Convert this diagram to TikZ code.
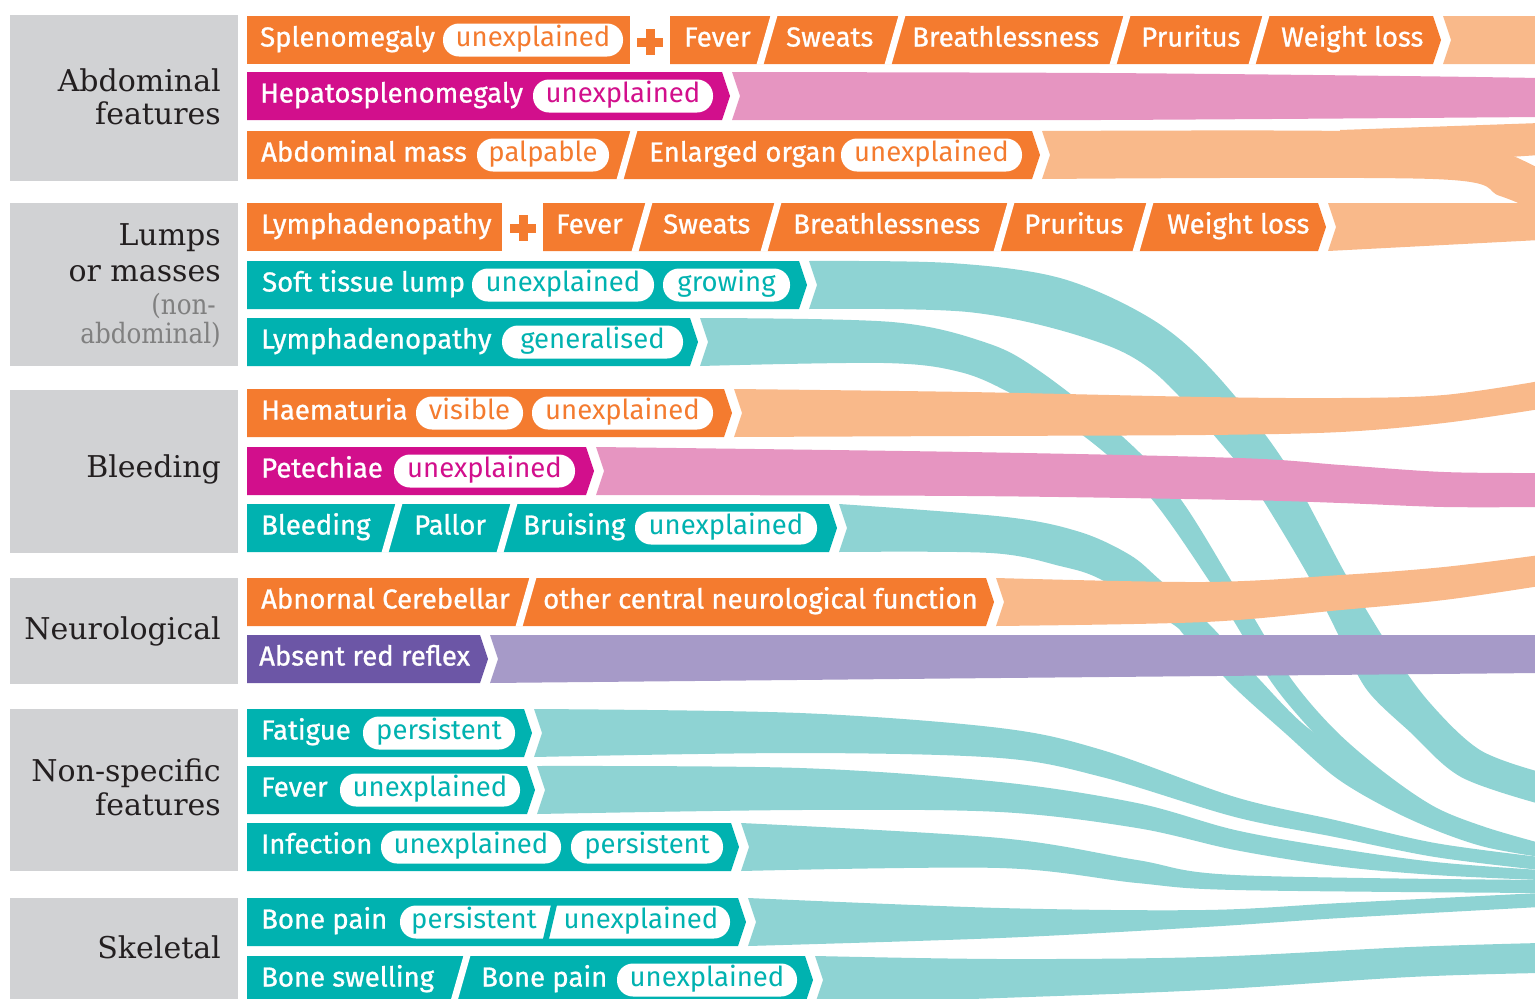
\documentclass[tikz,border=0pt]{standalone}
\usepackage{fontspec}
\setmainfont{Fira Sans}
\newfontfamily\labfont{Fira Sans}[FakeBold=1]
\newfontfamily\pillfont{Fira Sans}
\newfontfamily\serifcat{DejaVu Serif}
\newfontfamily\serifsub{DejaVu Serif}[FakeStretch=0.88]
\definecolor{cOr}{HTML}{F47B2F}
\definecolor{cMa}{HTML}{D20F8C}
\definecolor{cTe}{HTML}{00B2B0}
\definecolor{cPu}{HTML}{6C56A6}
\definecolor{lOr}{HTML}{F9B98A}
\definecolor{lMa}{HTML}{E695C1}
\definecolor{lTe}{HTML}{8ED3D3}
\definecolor{lPu}{HTML}{A69AC8}
\definecolor{cGray}{HTML}{D1D2D4}
\definecolor{cInk}{HTML}{231F20}
\definecolor{cSub}{HTML}{808080}
\tikzset{
  lab/.style={font=\labfont\fontsize{27.5}{27.5}\selectfont, text=white, inner sep=0pt, anchor=base west},
  pilltxt/.style={font=\pillfont\fontsize{27.5}{27.5}\selectfont, inner sep=0pt, anchor=base},
  cat/.style={font=\serifcat\fontsize{30}{30}\selectfont, text=cInk, inner sep=0pt, anchor=base east},
  catsub/.style={font=\serifsub\fontsize{28}{28}\selectfont, text=cSub, inner sep=0pt, anchor=base east},
  catbox/.style={fill=cGray},
  flow/.style={smooth, tension=0.55}
}
\newcommand\chevbar[5]{\fill[#1] (#2,#4) -- (#3,#4) -- ({#3+8},{(#4+#5)/2}) -- (#3,#5) -- (#2,#5) -- cycle;}
\newcommand\flatbar[5]{\fill[#1] (#2,#4) rectangle (#3,#5);}
\newcommand\cutsep[3]{\fill[white] ({#1-7-3.5},{#3+0.5}) -- ({#1-7+3.5},{#3+0.5}) -- ({#1+7+3.5},{#2-0.5}) -- ({#1+7-3.5},{#2-0.5}) -- cycle;}
\newcommand\mypill[6]{\fill[white, rounded corners=16pt] (#3,{#5-16.5}) rectangle (#4,{#5+16.5});
  \node[pilltxt, text=#2] (#1) at ({(#3+#4)/2},{#5+6.5}) {#6};}
\newcommand\lbl[4]{\node[lab] (#1) at (#2,{#3+6.5}) {#4};}
\newcommand\plussign[3]{\fill[#1] ({#2-13},{#3-4.5}) rectangle ({#2+13},{#3+4.5}); \fill[#1] ({#2-4.5},{#3-13}) rectangle ({#2+4.5},{#3+13});}
\begin{document}
\begin{tikzpicture}[x=1pt,y=-1pt]
\useasboundingbox (0,0) rectangle (1535,999);
\clip (0,0) rectangle (1535,999);
% ---------------- teal flows (behind) ----------------
\fill[lTe] plot[flow] coordinates {(809,261) (950,263) (1060,278) (1150,318) (1212,370) (1283,460) (1346,575) (1390,648) (1430,703) (1480,750) (1540,772)}
  -- plot[flow] coordinates {(1540,804) (1461,777) (1410,732) (1367,690) (1341,640) (1309,577) (1263,500) (1235,460) (1154,372) (1083,337) (968,312) (809,309)} -- (817,285) -- cycle;
\fill[lTe] plot[flow] coordinates {(700,318) (892,322) (987,343) (1041,372) (1123,437) (1179,497) (1232,582) (1254,618) (1292,680) (1335,730) (1385,773) (1435,807) (1485,827) (1540,843)}
  -- plot[flow] coordinates {(1540,851) (1485,838) (1435,818) (1375,790) (1345,765) (1302,720) (1270,680) (1232,618) (1210,582) (1150,497) (1085,437) (1014,395) (960,372) (884,363) (700,366)} -- (708,342) -- cycle;
\fill[lTe] plot[flow] coordinates {(839,504) (1006,517) (1080,532) (1130,555) (1160,580) (1208,623) (1260,680) (1302,723) (1352,760) (1385,785) (1435,815) (1485,837) (1540,850)}
  -- plot[flow] coordinates {(1540,857) (1485,847) (1435,830) (1385,807) (1335,777) (1285,733) (1235,688) (1186,637) (1171,623) (1102,580) (1060,566) (991,553) (839,552)} -- (847,528) -- cycle;
\fill[lTe] plot[flow] coordinates {(534,709) (800,713) (1000,728) (1102,750) (1235,797) (1335,820) (1435,843) (1540,857)}
  -- plot[flow] coordinates {(1540,870) (1435,857) (1335,837) (1235,817) (1102,777) (1000,758) (800,753) (534,757)} -- (542,733) -- cycle;
\fill[lTe] plot[flow] coordinates {(537,766) (800,768) (1000,782) (1137,803) (1235,830) (1335,848) (1435,862) (1540,870)}
  -- plot[flow] coordinates {(1540,880) (1435,875) (1335,866) (1235,850) (1137,828) (1000,812) (800,810) (537,814)} -- (545,790) -- cycle;
\fill[lTe] plot[flow] coordinates {(741,823) (1000,838) (1137,860) (1235,875) (1540,880)}
  -- plot[flow] coordinates {(1540,893) (1235,890) (1137,883) (1000,868) (741,871)} -- (749,847) -- cycle;
\fill[lTe] plot[flow] coordinates {(748,898) (1000,908) (1205,910) (1341,903) (1540,893)}
  -- plot[flow] coordinates {(1540,907) (1341,918) (1205,927) (1000,938) (748,946)} -- (756,922) -- cycle;
\fill[lTe] plot[flow] coordinates {(815,956) (1000,959) (1205,957) (1410,947) (1540,943)}
  -- plot[flow] coordinates {(1540,973) (1410,977) (1205,990) (1000,998) (815,1004)} -- (823,980) -- cycle;
% ---------------- other flows ----------------
\fill[lOr] (1443,16) -- (1540,16) -- (1540,64) -- (1443,64) -- (1451,40) -- cycle;
\fill[lMa] plot[flow] coordinates {(732,72) (1100,73) (1400,76) (1540,78)}
  -- plot[flow] coordinates {(1540,117) (1100,120) (732,120)} -- (740,96) -- cycle;
\fill[lOr] plot[flow] coordinates {(1042,131) (1340,131) (1440,139) (1500,151) (1540,169)}
  -- plot[flow] coordinates {(1540,213) (1500,196) (1433,179) (1042,179)} -- (1050,155) -- cycle;
\fill[lOr] (1340,130) -- (1540,123) -- (1540,155) -- (1340,168) -- cycle;
\fill[lOr] (1328,203) -- (1540,203) -- (1540,240) -- (1328,251) -- (1336,227) -- cycle;
\fill[lOr] plot[flow] coordinates {(734,389) (968,392) (1205,397) (1341,398) (1444,395) (1540,381)}
  -- plot[flow] coordinates {(1540,409) (1444,423) (1341,432) (1205,435) (968,436) (734,437)} -- (742,413) -- cycle;
\fill[lMa] plot[flow] coordinates {(596,447) (968,452) (1239,458) (1341,465) (1444,472) (1540,473)}
  -- plot[flow] coordinates {(1540,507) (1444,507) (1341,503) (1239,500) (968,496) (596,495)} -- (604,471) -- cycle;
\fill[lOr] plot[flow] coordinates {(996,578) (1205,582) (1341,575) (1444,567) (1540,555)}
  -- plot[flow] coordinates {(1540,586) (1444,600) (1341,610) (1205,622) (996,626)} -- (1004,602) -- cycle;
\fill[lPu] (490,635) -- (1540,635) -- (1540,673) -- (1000,678) -- (490,683) -- (498,659) -- cycle;
% ---------------- category boxes ----------------
\fill[catbox] (10,15) rectangle (238,181);
\fill[catbox] (10,203) rectangle (238,366);
\fill[catbox] (10,390) rectangle (238,553);
\fill[catbox] (10,578) rectangle (238,684);
\fill[catbox] (10,709) rectangle (238,871);
\fill[catbox] (10,898) rectangle (238,1005);
\node[cat] (cA1) at (221,91) {Abdominal};
\node[cat] (cA2) at (221,124) {features};
\node[cat] (cL1) at (221,245) {Lumps};
\node[cat] (cL2) at (221,281) {or masses};
\node[catsub] (cL3) at (216,314) {(non-};
\node[catsub] (cL4) at (221,343) {abdominal)};
\node[cat] (cB) at (221,477) {Bleeding};
\node[cat] (cN) at (221,639) {Neurological};
\node[cat] (cS1) at (221,781) {Non-specific};
\node[cat] (cS2) at (221,815) {features};
\node[cat] (cK) at (221,958) {Skeletal};
% ---------------- bars ----------------
% row 1
\flatbar{cOr}{247}{630}{16}{64}
\plussign{cOr}{650}{42}
\chevbar{cOr}{670}{1433}{16}{64}
\cutsep{767}{16}{64}\cutsep{895}{16}{64}\cutsep{1120}{16}{64}\cutsep{1259}{16}{64}
\lbl{r1a}{260}{40}{Splenomegaly}
\mypill{r1p}{cOr}{443}{623}{40}{unexplained}
\lbl{r1b}{684}{40}{Fever}
\lbl{r1c}{786}{40}{Sweats}
\lbl{r1d}{912}{40}{Breathlessness}
\lbl{r1e}{1141}{40}{Pruritus}
\lbl{r1f}{1281}{40}{Weight loss}
% row 2
\chevbar{cMa}{247}{722}{72}{120}
\lbl{r2a}{260}{96}{Hepatosplenomegaly}
\mypill{r2p}{cMa}{533}{713}{96}{unexplained}
% row 3
\chevbar{cOr}{247}{1032}{131}{179}
\cutsep{627}{131}{179}
\lbl{r3a}{261}{155}{Abdominal mass}
\mypill{r3p}{cOr}{477}{609}{155}{palpable}
\lbl{r3b}{649}{155}{Enlarged organ}
\mypill{r3q}{cOr}{841}{1022}{155}{unexplained}
% row 4
\flatbar{cOr}{247}{502}{203}{251}
\plussign{cOr}{523}{228}
\chevbar{cOr}{543}{1318}{203}{251}
\cutsep{642}{203}{251}\cutsep{771}{203}{251}\cutsep{1004}{203}{251}\cutsep{1143}{203}{251}
\lbl{r4a}{261}{227}{Lymphadenopathy}
\lbl{r4b}{556}{227}{Fever}
\lbl{r4c}{663}{227}{Sweats}
\lbl{r4d}{793}{227}{Breathlessness}
\lbl{r4e}{1024}{227}{Pruritus}
\lbl{r4f}{1167}{227}{Weight loss}
% row 5
\chevbar{cTe}{247}{799}{261}{309}
\lbl{r5a}{262}{285}{Soft tissue lump}
\mypill{r5p}{cTe}{472}{654}{285}{unexplained}
\mypill{r5q}{cTe}{663}{790}{285}{growing}
% row 6
\chevbar{cTe}{247}{690}{318}{366}
\lbl{r6a}{261}{342}{Lymphadenopathy}
\mypill{r6p}{cTe}{502}{683}{342}{generalised}
% row 7
\chevbar{cOr}{247}{724}{389}{437}
\lbl{r7a}{261}{413}{Haematuria}
\mypill{r7p}{cOr}{416}{523}{413}{visible}
\mypill{r7q}{cOr}{532}{713}{413}{unexplained}
% row 8
\chevbar{cMa}{247}{586}{447}{495}
\lbl{r8a}{261}{471}{Petechiae}
\mypill{r8p}{cMa}{394}{575}{471}{unexplained}
% row 9
\chevbar{cTe}{247}{829}{504}{552}
\cutsep{392}{504}{552}\cutsep{507}{504}{552}
\lbl{r9a}{261}{528}{Bleeding}
\lbl{r9b}{414}{528}{Pallor}
\lbl{r9c}{523}{528}{Bruising}
\mypill{r9p}{cTe}{635}{817}{528}{unexplained}
% row 10
\chevbar{cOr}{247}{986}{578}{626}
\cutsep{526}{578}{626}
\lbl{r10a}{261}{602}{Abnornal Cerebellar}
\lbl{r10b}{543}{602}{other central neurological function}
% row 11
\chevbar{cPu}{247}{480}{635}{683}
\lbl{r11a}{259}{659}{Absent red reflex}
% row 12
\chevbar{cTe}{247}{524}{709}{757}
\lbl{r12a}{261}{733}{Fatigue}
\mypill{r12p}{cTe}{363}{515}{733}{persistent}
% row 13
\chevbar{cTe}{247}{527}{766}{814}
\lbl{r13a}{261}{790}{Fever}
\mypill{r13p}{cTe}{340}{520}{790}{unexplained}
% row 14
\chevbar{cTe}{247}{731}{823}{871}
\lbl{r14a}{261}{847}{Infection}
\mypill{r14p}{cTe}{381}{561}{847}{unexplained}
\mypill{r14q}{cTe}{571}{723}{847}{persistent}
% row 15
\chevbar{cTe}{247}{738}{898}{946}
\lbl{r15a}{261}{922}{Bone pain}
\fill[white, rounded corners=16pt] (400,905.5) rectangle (730,938.5);
\fill[cTe] (543,939) -- (549,939) -- (557,905) -- (551,905) -- cycle;
\node[pilltxt, text=cTe] (r15p) at (474,928.5) {persistent};
\node[pilltxt, text=cTe] (r15q) at (641,928.5) {unexplained};
% row 16
\chevbar{cTe}{247}{805}{956}{1004}
\cutsep{460}{956}{1004}
\lbl{r16a}{261}{980}{Bone swelling}
\lbl{r16b}{481}{980}{Bone pain}
\mypill{r16p}{cTe}{617}{797}{980}{unexplained}
\end{tikzpicture}
\end{document}
